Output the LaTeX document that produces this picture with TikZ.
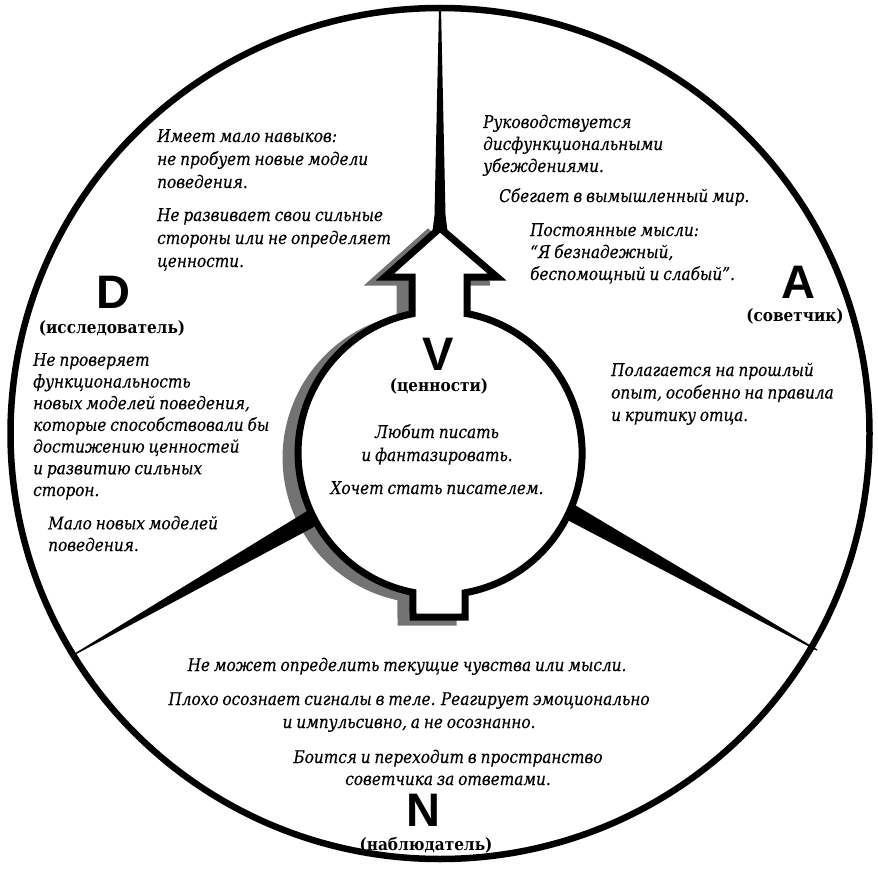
\documentclass[tikz,border=0pt]{standalone}
\usepackage{fontspec}
\setmainfont{DejaVu Serif}
\newfontfamily\notefont{DejaVu Serif Condensed}[WordSpace=0.8, FakeBold=0.35, FakeStretch=0.97]
\newfontfamily\rolefont{DejaVu Serif Condensed}
\newfontfamily\letterfont{Liberation Sans}

% outline of the value circle with its arrow on top and the stub below
\newcommand\valuepath{(467,313.6) -- (467,277) -- (497,277) -- (440,228) -- (385,277) -- (412,277) -- (412,313.8)
  arc[start angle=101.4, end angle=259, radius=142pt] -- (413,617) -- (465,617) -- (465,592.8)
  arc[start angle=-79.9, end angle=79, radius=142pt] -- cycle}

% multi-line notes are placed by the baseline of their last line
\tikzset{
  note/.style={font=\notefont\itshape\fontsize{17.5}{22.5}\selectfont, inner sep=0pt, align=left},
  notec/.style={note, align=center},
  skip/.style={font=\notefont\itshape\fontsize{17.5}{#1}\selectfont},
  role/.style={font=\rolefont\bfseries\fontsize{17}{20}\selectfont, inner sep=0pt},
  letter/.style={font=\letterfont\bfseries\fontsize{47}{47}\selectfont, inner sep=0pt},
  rim/.style={line width=6.5pt},
  body/.style={line width=7pt, line join=miter},
  spike/.style={fill=black},
  shade/.style={fill=black!55, draw=black!55, line width=7pt},
}

\begin{document}
\begin{tikzpicture}[x=1pt,y=-1pt]
\useasboundingbox (0,0) rectangle (878,869);

% outer ring
\draw[rim] (440,433.5) ellipse [x radius=429.5pt, y radius=425.5pt];

% drop shadow of the value shape
\begin{scope}
  \clip (0,0) -- (490,0) -- (490,300) -- (466,300) -- (466,869) -- (0,869) -- cycle;
  \filldraw[shade, shift={(-12,5)}] \valuepath;
\end{scope}

% tapered dividers
\fill[spike] (439,8) -- (441,8) -- (445.5,215) -- (448,235) -- (432,235) -- (434.5,215) -- cycle;
\fill[spike] (545.8,508.7) -- (816.7,650.6) -- (817.3,649.4) -- (554.6,492.9) -- cycle;
\fill[spike] (326.2,520.4) -- (75.3,654.6) -- (74.7,653.4) -- (317.2,504.8) -- cycle;

% value shape
\filldraw[body, fill=white] \valuepath;

% letters and roles
\node[letter, anchor=base] (D) at (113,308) {D};
\node[role, anchor=base] (Drole) at (112,333) {(исследователь)};
\node[letter, anchor=base] (A) at (798,298) {A};
\node[role, anchor=base] (Arole) at (795,321) {(советчик)};
\node[letter, anchor=base] (V) at (438,370) {V};
\node[role, anchor=base] (Vrole) at (439,391) {(ценности)};
\node[letter, anchor=base] (N) at (423,826) {N};
\node[role, anchor=base] (Nrole) at (426,850) {(наблюдатель)};

% descriptions
\node[note, skip=23, anchor=base west] (tl1) at (157,188) {Имеет мало навыков:\\не пробует новые модели\\поведения.};
\node[note, skip=23, anchor=base west] (tl2) at (157,267) {Не развивает свои сильные\\стороны или не определяет\\ценности.};
\node[note, skip=22, anchor=base west] (tr1) at (483,172) {Руководствуется\\дисфункциональными\\убеждениями.};
\node[note, anchor=base west] (tr2) at (499,202) {Сбегает в вымышленный мир.};
\node[note, skip=22, anchor=base west] (tr3) at (530,280) {Постоянные мысли:\\“Я безнадежный,\\беспомощный и слабый”.};
\node[note, anchor=base west] (r1) at (611,421) {Полагается на прошлый\\опыт, особенно на правила\\и критику отца.};
\node[note, skip=21.7, anchor=base west] (l1) at (33,496) {Не проверяет\\функциональность\\новых моделей поведения,\\которые способствовали бы\\достижению ценностей\\и развитию сильных\\сторон.};
\node[note, skip=21.7, anchor=base west] (l2) at (48,551) {Мало новых моделей\\поведения.};
\node[notec, skip=23, anchor=base] (v1) at (437,461) {Любит писать\\и фантазировать.};
\node[notec, anchor=base] (v2) at (437,494) {Хочет стать писателем.};
\node[notec, anchor=base] (b1) at (407,671) {Не может определить текущие чувства или мысли.};
\node[notec, skip=23, anchor=base] (b2) at (409,728) {Плохо осознает сигналы в теле. Реагирует эмоционально\\и импульсивно, а не осознанно.};
\node[notec, skip=22, anchor=base] (b3) at (448,785) {Боится и переходит в пространство\\советчика за ответами.};
\end{tikzpicture}
\end{document}
